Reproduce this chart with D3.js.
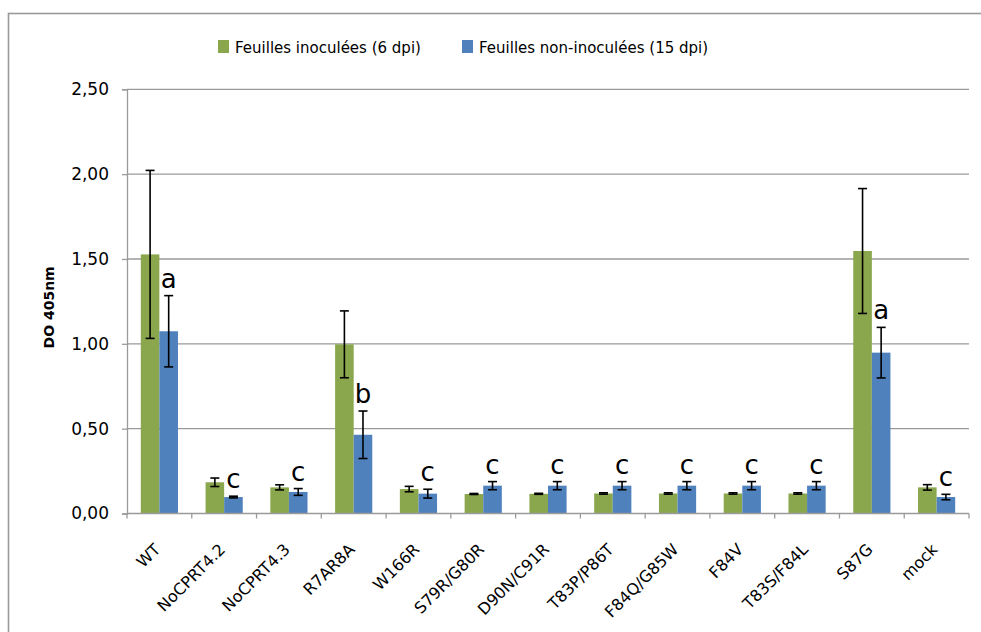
<!DOCTYPE html>
<html>
<head>
<meta charset="utf-8">
<script src="https://cdn.jsdelivr.net/npm/d3@7"></script>
<style>
  html, body { margin: 0; padding: 0; background: #fff; }
  svg { display: block; font-family: "DejaVu Sans", sans-serif; }
</style>
</head>
<body>
<svg id="chart" width="981" height="632"></svg>
<script>
const categories = ["WT", "NoCPRT4.2", "NoCPRT4.3", "R7AR8A", "W166R", "S79R/G80R", "D90N/C91R", "T83P/P86T", "F84Q/G85W", "F84V", "T83S/F84L", "S87G", "mock"];
const seriesNames = ["Feuilles inoculées (6 dpi)", "Feuilles non-inoculées (15 dpi)"];
const inoculated = [1.527, 0.184, 0.154, 0.997, 0.144, 0.115, 0.116, 0.118, 0.118, 0.118, 0.118, 1.547, 0.154];
const inoculatedErr = [0.495, 0.025, 0.015, 0.197, 0.016, 0.003, 0.003, 0.004, 0.004, 0.004, 0.004, 0.368, 0.016];
const nonInoculated = [1.074, 0.097, 0.127, 0.464, 0.117, 0.164, 0.164, 0.164, 0.164, 0.164, 0.164, 0.948, 0.097];
const nonInoculatedErr = [0.21, 0.005, 0.02, 0.14, 0.026, 0.024, 0.024, 0.024, 0.024, 0.024, 0.024, 0.149, 0.016];
const letters = ["a", "c", "c", "b", "c", "c", "c", "c", "c", "c", "c", "a", "c"];
const yTicks = [0, 0.5, 1.0, 1.5, 2.0, 2.5];
const colors = ["#8BA74D", "#4F81BD"];

const svg = d3.select("#chart");
const W = 981, H = 632;
const margin = { left: 127, right: W - 969, top: 89.3, bottom: H - 513.5 };

// outer frame
svg.append("rect").attr("x", 8.5).attr("y", 13.5).attr("width", 990).attr("height", 640)
  .attr("fill", "none").attr("stroke", "#999").attr("stroke-width", 1.6);

const x = d3.scaleBand().domain(categories).range([margin.left, W - margin.right]).padding(0);
const xs = d3.scaleBand().domain([0, 1]).range([x.bandwidth() * 0.213, x.bandwidth() * 0.787]).padding(0);
const y = d3.scaleLinear().domain([0, 2.5]).range([H - margin.bottom, margin.top]);
const fmt = v => d3.format(".2f")(v).replace(".", ",");

// gridlines
svg.append("g").selectAll("line").data(yTicks.filter(t => t > 0)).join("line")
  .attr("x1", margin.left).attr("x2", W - margin.right)
  .attr("y1", d => y(d)).attr("y2", d => y(d))
  .attr("stroke", "#9a9a9a").attr("stroke-width", 1.3);

// y axis
const yAxis = svg.append("g").attr("transform", `translate(${margin.left},0)`)
  .call(d3.axisLeft(y).tickValues(yTicks).tickFormat(fmt).tickSize(5).tickPadding(13));
yAxis.select(".domain").attr("stroke", "#9a9a9a").attr("stroke-width", 1.3);
yAxis.selectAll(".tick line").attr("stroke", "#9a9a9a").attr("stroke-width", 1.3);
yAxis.selectAll(".tick text").attr("font-size", 17).attr("fill", "#000")
  .attr("font-family", "DejaVu Sans, sans-serif");

// bars
const data = categories.map((c, i) => ({
  cat: c,
  vals: [
    { s: 0, v: inoculated[i], e: inoculatedErr[i] },
    { s: 1, v: nonInoculated[i], e: nonInoculatedErr[i] }
  ],
  letter: letters[i]
}));

const groups = svg.append("g").selectAll("g").data(data).join("g")
  .attr("transform", d => `translate(${x(d.cat)},0)`);

groups.selectAll("rect").data(d => d.vals).join("rect")
  .attr("x", d => xs(d.s)).attr("width", xs.bandwidth())
  .attr("y", d => y(d.v)).attr("height", d => y(0) - y(d.v))
  .attr("fill", d => colors[d.s]);

// error bars
const cap = 4.5;
groups.selectAll("g.err").data(d => d.vals).join("g").attr("class", "err")
  .each(function(d) {
    const g = d3.select(this);
    const cx = xs(d.s) + xs.bandwidth() / 2;
    const y1 = y(d.v + d.e), y2 = y(Math.max(0, d.v - d.e));
    g.append("line").attr("x1", cx).attr("x2", cx).attr("y1", y1).attr("y2", y2);
    g.append("line").attr("x1", cx - cap).attr("x2", cx + cap).attr("y1", y1).attr("y2", y1);
    g.append("line").attr("x1", cx - cap).attr("x2", cx + cap).attr("y1", y2).attr("y2", y2);
  })
  .selectAll("line").attr("stroke", "#000").attr("stroke-width", 1.6);

// significance letters
groups.append("text")
  .attr("x", xs(1) + xs.bandwidth() / 2)
  .attr("y", d => y(d.vals[1].v + d.vals[1].e) - 8)
  .attr("text-anchor", "middle").attr("font-size", 26).attr("fill", "#000")
  .text(d => d.letter);

// x axis
const xAxisY = y(0);
svg.append("line").attr("x1", margin.left).attr("x2", W - margin.right)
  .attr("y1", xAxisY).attr("y2", xAxisY).attr("stroke", "#9a9a9a").attr("stroke-width", 1.3);
const boundaries = categories.map(c => x(c)).concat([W - margin.right]);
svg.append("g").selectAll("line").data(boundaries).join("line")
  .attr("x1", d => d).attr("x2", d => d).attr("y1", xAxisY).attr("y2", xAxisY + 5)
  .attr("stroke", "#9a9a9a").attr("stroke-width", 1.3);

svg.append("g").selectAll("text").data(categories).join("text")
  .attr("transform", d => `translate(${x(d) + x.bandwidth() / 2 + 2},${xAxisY + 37}) rotate(-45)`)
  .attr("text-anchor", "end").attr("font-size", 16).attr("fill", "#000")
  .text(d => d);

// y axis title
svg.append("text")
  .attr("transform", `translate(54,${(y(0) + y(2.5)) / 2 + 6}) rotate(-90)`)
  .attr("text-anchor", "middle").attr("font-size", 14).attr("font-weight", "bold")
  .text("DO 405nm");

// legend
const legendX = [218, 462];
const leg = svg.append("g").selectAll("g").data(seriesNames).join("g")
  .attr("transform", (d, i) => `translate(${legendX[i]},40)`);
leg.append("rect").attr("width", 11).attr("height", 13).attr("fill", (d, i) => colors[i]);
leg.append("text").attr("x", 17).attr("y", 12.5).attr("font-size", 15).attr("fill", "#000").text(d => d);
</script>
</body>
</html>
